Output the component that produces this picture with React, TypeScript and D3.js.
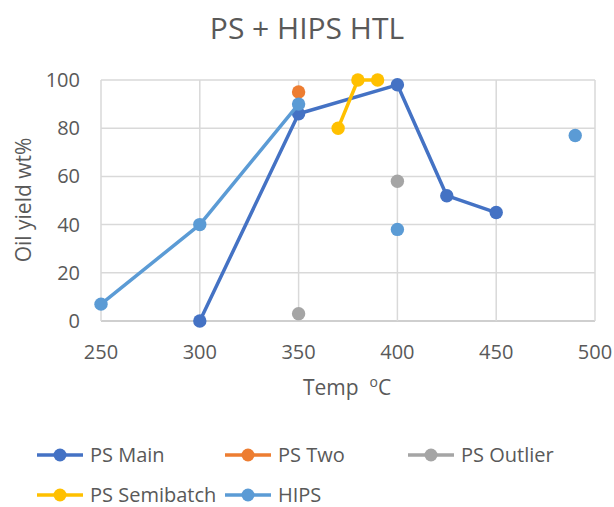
import React from "react";
import * as d3 from "d3";

const xTicks = [250, 300, 350, 400, 450, 500];
const yTicks = [0, 20, 40, 60, 80, 100];

const seriesNames = ["PS Main", "PS Two", "PS Outlier", "PS Semibatch", "HIPS"];
const seriesColors = ["#4472C4", "#ED7D31", "#A5A5A5", "#FFC000", "#5B9BD5"];

// null marks a gap (no connecting line)
const psMainX = [300, 350, 400, 425, 450];
const psMainY = [0, 86, 98, 52, 45];
const psTwoX = [350];
const psTwoY = [95];
const psOutlierX = [350, null, 400];
const psOutlierY = [3, null, 58];
const psSemiX = [370, 380, 390];
const psSemiY = [80, 100, 100];
const hipsX = [250, 300, 350, null, 400, null, 490];
const hipsY = [7, 40, 90, null, 38, null, 77];

const seriesX = [psMainX, psTwoX, psOutlierX, psSemiX, hipsX];
const seriesY = [psMainY, psTwoY, psOutlierY, psSemiY, hipsY];

const W = 614;
const H = 507;
const FONT = "'Open Sans', sans-serif";
const TXT = "#595959";

export default function App() {
  const x = d3.scaleLinear().domain([250, 500]).range([101, 595]);
  const y = d3.scaleLinear().domain([0, 100]).range([321, 80]);

  const line = d3
    .line<{ x: number | null; y: number | null }>()
    .defined((d) => d.x != null && d.y != null)
    .x((d) => x(d.x as number))
    .y((d) => y(d.y as number));

  const series = seriesNames.map((name, i) => ({
    name,
    color: seriesColors[i],
    pts: seriesX[i].map((xv, j) => ({ x: xv, y: seriesY[i][j] })),
  }));

  const legendPos = [
    { x0: 37, y: 455 },
    { x0: 225, y: 455 },
    { x0: 408, y: 455 },
    { x0: 37, y: 495 },
    { x0: 225, y: 495 },
  ];

  return (
    <svg
      width={W}
      height={H}
      style={{ position: "absolute", left: 0, top: 0, background: "#fff" }}
      fontFamily={FONT}
    >
      <rect width={W} height={H} fill="#fff" />
      <text x={307} y={39} textAnchor="middle" fontSize={30} fill={TXT}>
        PS + HIPS HTL
      </text>

      {/* grid */}
      {yTicks.map((t) => (
        <line
          key={"gy" + t}
          x1={x(250)}
          x2={x(500)}
          y1={y(t)}
          y2={y(t)}
          stroke={t === 0 ? "#BFBFBF" : "#D9D9D9"}
          strokeWidth={1.5}
        />
      ))}
      {xTicks.map((t) => (
        <line
          key={"gx" + t}
          x1={x(t)}
          x2={x(t)}
          y1={y(0)}
          y2={y(100)}
          stroke="#D9D9D9"
          strokeWidth={1.5}
        />
      ))}

      {/* tick labels */}
      {yTicks.map((t) => (
        <text
          key={"ty" + t}
          x={80}
          y={y(t)}
          dy="0.35em"
          textAnchor="end"
          fontSize={20}
          fill={TXT}
        >
          {t}
        </text>
      ))}
      {xTicks.map((t) => (
        <text
          key={"tx" + t}
          x={x(t)}
          y={359}
          textAnchor="middle"
          fontSize={20}
          fill={TXT}
        >
          {t}
        </text>
      ))}

      {/* axis titles */}
      <text
        transform="translate(31,200) rotate(-90)"
        textAnchor="middle"
        fontSize={21}
        fill={TXT}
      >
        Oil yield wt%
      </text>
      <text x={347} y={395} textAnchor="middle" fontSize={21} fill={TXT}>
        Temp{"\u00A0\u00A0"}
        <tspan fontSize={14} dy={-8}>o</tspan>
        <tspan dy={8}>C</tspan>
      </text>

      {/* series */}
      {series.map((s) => (
        <g key={s.name}>
          <path
            d={line(s.pts) || ""}
            fill="none"
            stroke={s.color}
            strokeWidth={3.5}
            strokeLinejoin="round"
          />
          {s.pts
            .filter((p) => p.x != null && p.y != null)
            .map((p, j) => (
              <circle
                key={j}
                cx={x(p.x as number)}
                cy={y(p.y as number)}
                r={6.7}
                fill={s.color}
              />
            ))}
        </g>
      ))}

      {/* legend */}
      {series.map((s, i) => {
        const p = legendPos[i];
        return (
          <g key={"lg" + s.name}>
            <line
              x1={p.x0}
              x2={p.x0 + 46}
              y1={p.y}
              y2={p.y}
              stroke={s.color}
              strokeWidth={3.5}
            />
            <circle cx={p.x0 + 23} cy={p.y} r={6.5} fill={s.color} />
            <text
              x={p.x0 + 53}
              y={p.y}
              dy="0.35em"
              fontSize={20}
              fill={TXT}
            >
              {s.name}
            </text>
          </g>
        );
      })}
    </svg>
  );
}
